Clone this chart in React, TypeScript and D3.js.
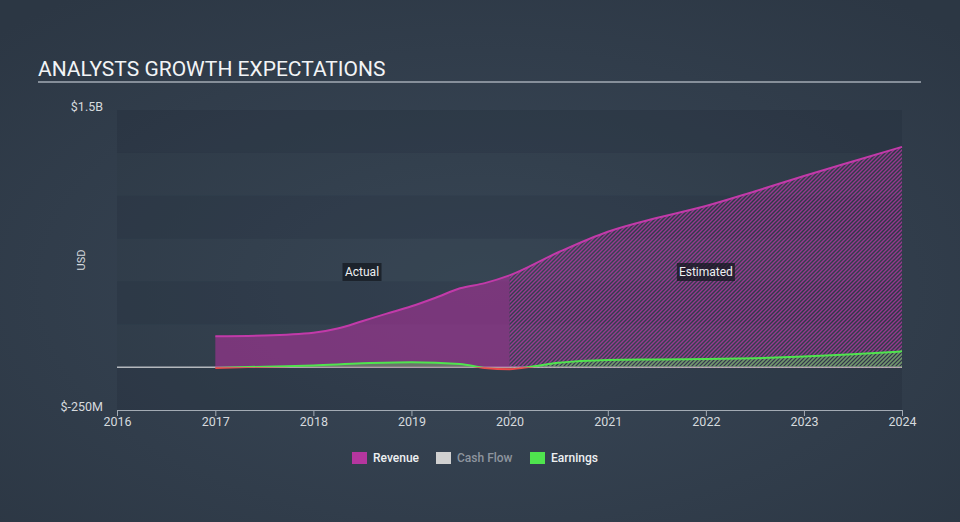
import { useRef, useEffect } from "react";
import { select, scaleLinear, scaleTime, area, line, curveMonotoneX, axisBottom } from "d3";

// Revenue, USD millions
const revenueActualDates = ["2017-01-01", "2017-07-01", "2018-01-01", "2018-04-01", "2018-07-01", "2018-10-01", "2019-01-01", "2019-04-01", "2019-07-01", "2019-10-01", "2020-01-01"];
const revenueActual = [180, 184, 200, 225, 268, 312, 355, 405, 460, 490, 535];
const revenueEstDates = ["2020-01-01", "2020-07-01", "2021-01-01", "2021-07-01", "2022-01-01", "2022-07-01", "2023-01-01", "2023-07-01", "2024-01-01"];
const revenueEst = [535, 670, 790, 870, 940, 1025, 1115, 1200, 1285];

// Earnings, USD millions
const earningsActualDates = ["2017-01-01", "2017-07-01", "2018-01-01", "2018-07-01", "2019-01-01", "2019-07-01", "2019-10-01", "2020-01-01"];
const earningsActual = [-5, 3, 10, 22, 28, 18, -5, -12];
const earningsEstDates = ["2020-01-01", "2020-04-01", "2020-07-01", "2021-01-01", "2021-07-01", "2022-01-01", "2022-07-01", "2023-01-01", "2023-07-01", "2024-01-01"];
const earningsEst = [-12, 5, 25, 42, 45, 47, 52, 62, 75, 92];

const xTicks = [2016, 2017, 2018, 2019, 2020, 2021, 2022, 2023, 2024];
const yTickValues = [1500, -250];
const yTickLabels = ["$1.5B", "$-250M"];
const legendNames = ["Revenue", "Cash Flow", "Earnings"];
const legendColors = ["#b5369f", "#d0d0d0", "#4fe44e"];
const legendText = ["#eef0f2", "#8e959e", "#eef0f2"];

type Pt = { date: Date; value: number };
const toPts = (dates: string[], vals: number[]): Pt[] => dates.map((d, i) => ({ date: new Date(d), value: vals[i] }));

const App = () => {
  const svgRef = useRef<SVGSVGElement | null>(null);

  useEffect(() => {
    const svg = select(svgRef.current);
    svg.selectAll("*").remove();
    const font = "Roboto, 'Noto Sans', sans-serif";

    const left = 117, right = 902, top = 110, bottom = 410;
    const x = scaleTime().domain([new Date("2016-01-01"), new Date("2024-01-01")]).range([left, right]);
    const y = scaleLinear().domain([-250, 1500]).range([bottom, top]);

    const defs = svg.append("defs");
    const grad = defs.append("radialGradient").attr("id", "bg").attr("cx", "50%").attr("cy", "55%").attr("r", "70%");
    grad.append("stop").attr("offset", "0%").attr("stop-color", "#3a4858");
    grad.append("stop").attr("offset", "100%").attr("stop-color", "#2c3744");

    const hatch = (id: string, color: string) => {
      const p = defs.append("pattern").attr("id", id).attr("patternUnits", "userSpaceOnUse").attr("width", 4).attr("height", 4);
      p.append("path").attr("d", "M-1,1 l2,-2 M0,4 l4,-4 M3,5 l2,-2").attr("stroke", color).attr("stroke-width", 1.4);
    };
    hatch("hatchRev", "rgba(185,55,165,0.75)");
    hatch("hatchEarn", "rgba(80,228,78,0.6)");

    defs.append("clipPath").attr("id", "above").append("rect").attr("x", left).attr("y", top).attr("width", right - left).attr("height", y(0) - top);
    defs.append("clipPath").attr("id", "below").append("rect").attr("x", left).attr("y", y(0)).attr("width", right - left).attr("height", bottom - y(0));

    svg.append("rect").attr("width", 960).attr("height", 522).attr("fill", "url(#bg)");

    // Title
    svg.append("text").attr("x", 38).attr("y", 76).attr("fill", "#f2f4f6").attr("font-family", font).attr("font-size", 21).text("ANALYSTS GROWTH EXPECTATIONS");
    svg.append("line").attr("x1", 38).attr("x2", 921).attr("y1", 82).attr("y2", 82).attr("stroke", "#a3abb4").attr("stroke-width", 1.5);

    // Background bands
    const bandVals = [1500, 1250, 1000, 750, 500, 250, 0];
    svg.append("g").selectAll("rect").data(bandVals).join("rect")
      .attr("x", left).attr("width", right - left)
      .attr("y", (d) => y(d)).attr("height", (d) => y(d - 250) - y(d))
      .attr("fill", "#1c2530")
      .attr("fill-opacity", (_, i) => (i % 2 === 0 ? 0.22 : 0.07));

    // Zero line
    svg.append("line").attr("x1", left).attr("x2", right).attr("y1", y(0)).attr("y2", y(0)).attr("stroke", "#b4b8bd").attr("stroke-width", 1.5);

    const areaGen = area<Pt>().x((d) => x(d.date)).y0(y(0)).y1((d) => y(d.value)).curve(curveMonotoneX);
    const lineGen = line<Pt>().x((d) => x(d.date)).y((d) => y(d.value)).curve(curveMonotoneX);

    const revA = toPts(revenueActualDates, revenueActual);
    const revE = toPts(revenueEstDates, revenueEst);
    const earnA = toPts(earningsActualDates, earningsActual);
    const earnE = toPts(earningsEstDates, earningsEst);

    // Revenue
    svg.append("path").attr("d", areaGen(revA)).attr("fill", "rgba(180,50,160,0.55)");
    svg.append("path").attr("d", areaGen(revE)).attr("fill", "url(#hatchRev)");
    svg.append("path").attr("d", lineGen(revA.concat(revE.slice(1)))).attr("fill", "none").attr("stroke", "#c23aa9").attr("stroke-width", 2);

    // Earnings (green above zero, red below)
    const earnAll = earnA.concat(earnE.slice(1));
    svg.append("path").attr("d", areaGen(earnA)).attr("fill", "rgba(80,228,78,0.35)").attr("clip-path", "url(#above)");
    svg.append("path").attr("d", areaGen(earnE)).attr("fill", "url(#hatchEarn)").attr("clip-path", "url(#above)");
    svg.append("path").attr("d", areaGen(earnAll)).attr("fill", "rgba(232,72,74,0.35)").attr("clip-path", "url(#below)");
    svg.append("path").attr("d", lineGen(earnAll)).attr("fill", "none").attr("stroke", "#4fe44e").attr("stroke-width", 2).attr("clip-path", "url(#above)");
    svg.append("path").attr("d", lineGen(earnAll)).attr("fill", "none").attr("stroke", "#e8484a").attr("stroke-width", 2).attr("clip-path", "url(#below)");

    // X axis
    const xAxis = axisBottom(x).tickValues(xTicks.map((t) => new Date(`${t}-01-01`))).tickFormat((d) => String((d as Date).getFullYear())).tickSize(6);
    const gx = svg.append("g").attr("transform", `translate(0,${bottom})`).call(xAxis);
    gx.select(".domain").attr("stroke", "#a3abb4");
    gx.selectAll(".tick line").attr("stroke", "#a3abb4");
    gx.selectAll(".tick text").attr("fill", "#d6dade").attr("font-family", font).attr("font-size", 12.5).attr("dy", "0.55em");

    // Y labels
    svg.append("g").selectAll("text").data(yTickValues).join("text")
      .attr("x", 103).attr("y", (d) => y(d) - 2).attr("text-anchor", "end").attr("dominant-baseline", "middle")
      .attr("fill", "#d6dade").attr("font-family", font).attr("font-size", 12.5)
      .text((_, i) => yTickLabels[i]);
    svg.append("text").attr("transform", "translate(85,260) rotate(-90)").attr("text-anchor", "middle")
      .attr("fill", "#d6dade").attr("font-family", font).attr("font-size", 11).text("USD");

    // Actual / Estimated labels
    const tag = (label: string, cx: number, w: number) => {
      svg.append("rect").attr("x", cx - w / 2).attr("y", 263).attr("width", w).attr("height", 18).attr("fill", "rgba(20,24,32,0.75)");
      svg.append("text").attr("x", cx).attr("y", 272).attr("text-anchor", "middle").attr("dominant-baseline", "central")
        .attr("fill", "#eef0f2").attr("font-family", font).attr("font-size", 12).text(label);
    };
    tag("Actual", x(new Date("2018-07-01")), 39);
    tag("Estimated", x(new Date("2022-01-01")), 58);

    // Legend
    const lx = [352, 436, 530];
    const lg = svg.append("g").selectAll("g").data(legendNames).join("g").attr("transform", (_, i) => `translate(${lx[i]},452)`);
    lg.append("rect").attr("width", 15).attr("height", 12).attr("fill", (_, i) => legendColors[i]);
    lg.append("text").attr("x", 21).attr("y", 6).attr("dominant-baseline", "central")
      .attr("fill", (_, i) => legendText[i]).attr("font-family", font).attr("font-size", 12).attr("font-weight", 500)
      .text((d) => d);
  }, []);

  return <svg ref={svgRef} width={960} height={522} style={{ position: "absolute", left: 0, top: 0, display: "block" }} />;
};

export default App;
